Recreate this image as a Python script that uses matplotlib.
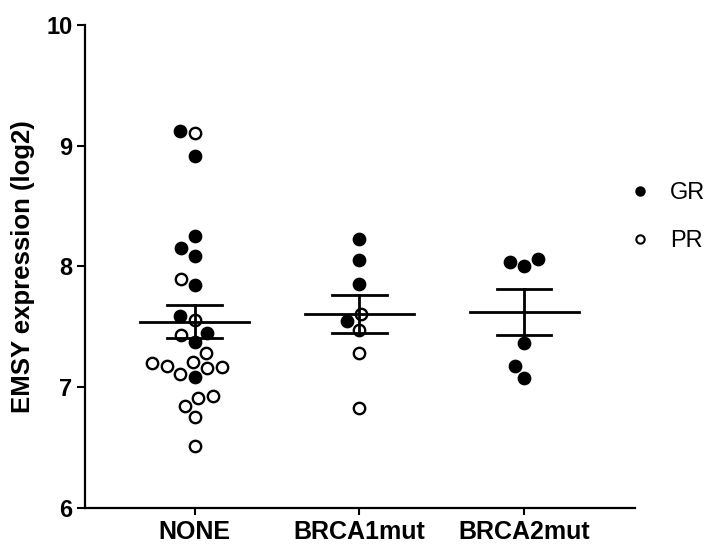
import numpy as np
import matplotlib
matplotlib.use('Agg')
import matplotlib.pyplot as plt
from matplotlib.lines import Line2D

plt.rcParams['font.family'] = ['Liberation Sans', 'DejaVu Sans']

# data (EMSY expression, log2)
groups = ['NONE', 'BRCA1mut', 'BRCA2mut']
gr_values = [
    [9.125, 8.918, 8.255, 8.15, 8.09, 7.85, 7.593, 7.447, 7.377, 7.088],
    [8.228, 8.054, 7.855, 7.549],
    [8.06, 8.007, 8.04, 7.37, 7.178, 7.08],
]
pr_values = [
    [9.108, 7.90, 7.557, 7.433, 7.28, 7.198, 7.17, 7.11, 7.157, 7.18, 7.21,
     6.913, 6.927, 6.845, 6.75, 6.516],
    [7.607, 7.474, 7.28, 6.83],
    [],
]
yticks = [6, 7, 8, 9, 10]

fig = plt.figure(figsize=(7.12, 5.49), dpi=100)
ax = fig.add_axes([0.1194, 0.0747, 0.7725, 0.8798])
ax.set_xlim(-0.665, 2.672)
ax.set_ylim(6, 10)

# pixels per data unit, for the swarm layout
px_x = ax.transData.transform((1, 0))[0] - ax.transData.transform((0, 0))[0]
px_y = ax.transData.transform((0, 1))[1] - ax.transData.transform((0, 0))[1]
dot = 15.0  # spacing between dot centres in pixels


def swarm(vals):
    # place each point at the smallest offset that avoids overlap
    order = np.argsort(vals)
    placed = []
    offs = np.zeros(len(vals))
    steps = np.arange(0, 60) * dot / 20.0
    for i in order:
        y = vals[i] * px_y
        for s in steps:
            ok = None
            for cand in ([s] if s == 0 else [-s, s]):
                if all((cand - px) ** 2 + (y - py) ** 2 >= dot ** 2 * 0.97 for px, py in placed):
                    ok = cand
                    break
            if ok is not None:
                break
        offs[i] = ok
        placed.append((ok, y))
    return offs / px_x


for gi, name in enumerate(groups):
    vals = np.array(gr_values[gi] + pr_values[gi])
    kind = ['GR'] * len(gr_values[gi]) + ['PR'] * len(pr_values[gi])
    offs = swarm(vals)
    for v, o, k in zip(vals, offs, kind):
        ax.plot(gi + o, v, 'o', ms=8.2, mec='black', mew=1.7,
                mfc='black' if k == 'GR' else 'white', zorder=2, clip_on=False)
    m = vals.mean()
    sem = vals.std(ddof=1) / np.sqrt(len(vals))
    ax.plot([gi - 0.33, gi + 0.33], [m, m], color='black', lw=2, zorder=3)
    ax.plot([gi - 0.165, gi + 0.165], [m + sem, m + sem], color='black', lw=2, zorder=3)
    ax.plot([gi - 0.165, gi + 0.165], [m - sem, m - sem], color='black', lw=2, zorder=3)
    ax.plot([gi, gi], [m - sem, m + sem], color='black', lw=2, zorder=3)

ax.set_xticks(range(len(groups)))
ax.set_xticklabels(groups, fontsize=18, fontweight='bold')
ax.set_yticks(yticks)
ax.set_yticklabels([str(t) for t in yticks], fontsize=17, fontweight='bold')
ax.tick_params(axis='x', length=5, width=1.5, pad=4)
ax.tick_params(axis='y', length=6, width=1.5, pad=3)
ax.set_ylabel('EMSY expression (log2)', fontsize=18.5, fontweight='bold', labelpad=8)
for s in ['top', 'right']:
    ax.spines[s].set_visible(False)
for s in ['left', 'bottom']:
    ax.spines[s].set_linewidth(1.6)

handles = [
    Line2D([], [], ls='', marker='o', ms=6, mfc='black', mec='black', mew=1.5),
    Line2D([], [], ls='', marker='o', ms=6, mfc='white', mec='black', mew=1.5),
]
fig.legend(handles, ['GR', 'PR'], loc='upper left', bbox_to_anchor=(0.852, 0.707),
           frameon=False, fontsize=17, handletextpad=0.8, labelspacing=1.1,
           handlelength=1.0)

fig.savefig('out.png', dpi=100)
